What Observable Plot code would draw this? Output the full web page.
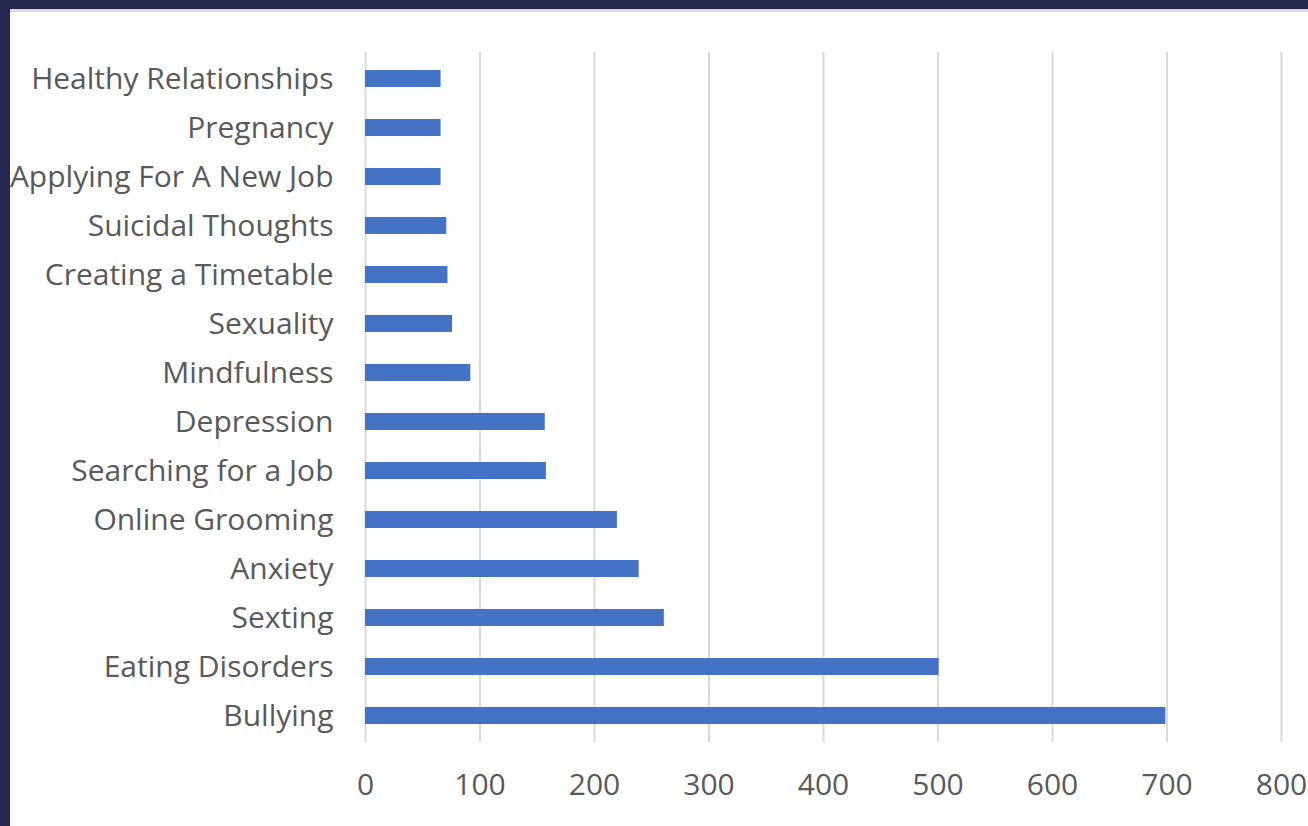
<!DOCTYPE html>
<html>
<head>
<meta charset="utf-8">
<script src="https://cdn.jsdelivr.net/npm/d3@7"></script>
<script src="https://cdn.jsdelivr.net/npm/@observablehq/plot@0.6"></script>
<style>
  html, body { margin: 0; padding: 0; background: #24264e; overflow: hidden; }
  #card {
    position: absolute; left: 10px; top: 9px; width: 1298px; height: 817px;
    background: #ffffff; border-top: 3px solid #d9d9d9; box-sizing: border-box;
  }
  #card svg { display: block; }
</style>
</head>
<body>
<div id="card"></div>
<script>
const categories = [
  "Healthy Relationships", "Pregnancy", "Applying For A New Job", "Suicidal Thoughts",
  "Creating a Timetable", "Sexuality", "Mindfulness", "Depression",
  "Searching for a Job", "Online Grooming", "Anxiety", "Sexting",
  "Eating Disorders", "Bullying"
];
const values = [66, 66, 66, 71, 72, 76, 92, 157, 158, 220, 239, 261, 501, 699];
const xTicks = [0, 100, 200, 300, 400, 500, 600, 700, 800];

const data = categories.map((c, i) => ({category: c, value: values[i]}));

const chart = Plot.plot({
  width: 1298,
  height: 814,
  marginLeft: 355,
  marginRight: 27,
  marginTop: 40,
  marginBottom: 84,
  style: {fontFamily: "'Open Sans', sans-serif", fontSize: "30px", color: "#595959", background: "#ffffff"},
  x: {domain: [0, 800], ticks: xTicks},
  y: {domain: categories, paddingInner: 0.65, paddingOuter: 0.325},
  marks: [
    Plot.gridX(xTicks, {stroke: "#d9d9d9", strokeWidth: 2, strokeOpacity: 1}),
    Plot.barX(data, {x: "value", y: "category", fill: "#4472c4"}),
    Plot.axisX(xTicks, {tickSize: 0, tickPadding: 31, label: null, fill: "#595959", fontSize: 30}),
    Plot.axisY({tickSize: 0, tickPadding: 32, label: null, fill: "#595959", fontSize: 30})
  ]
});
document.getElementById("card").appendChild(chart);
</script>
</body>
</html>
